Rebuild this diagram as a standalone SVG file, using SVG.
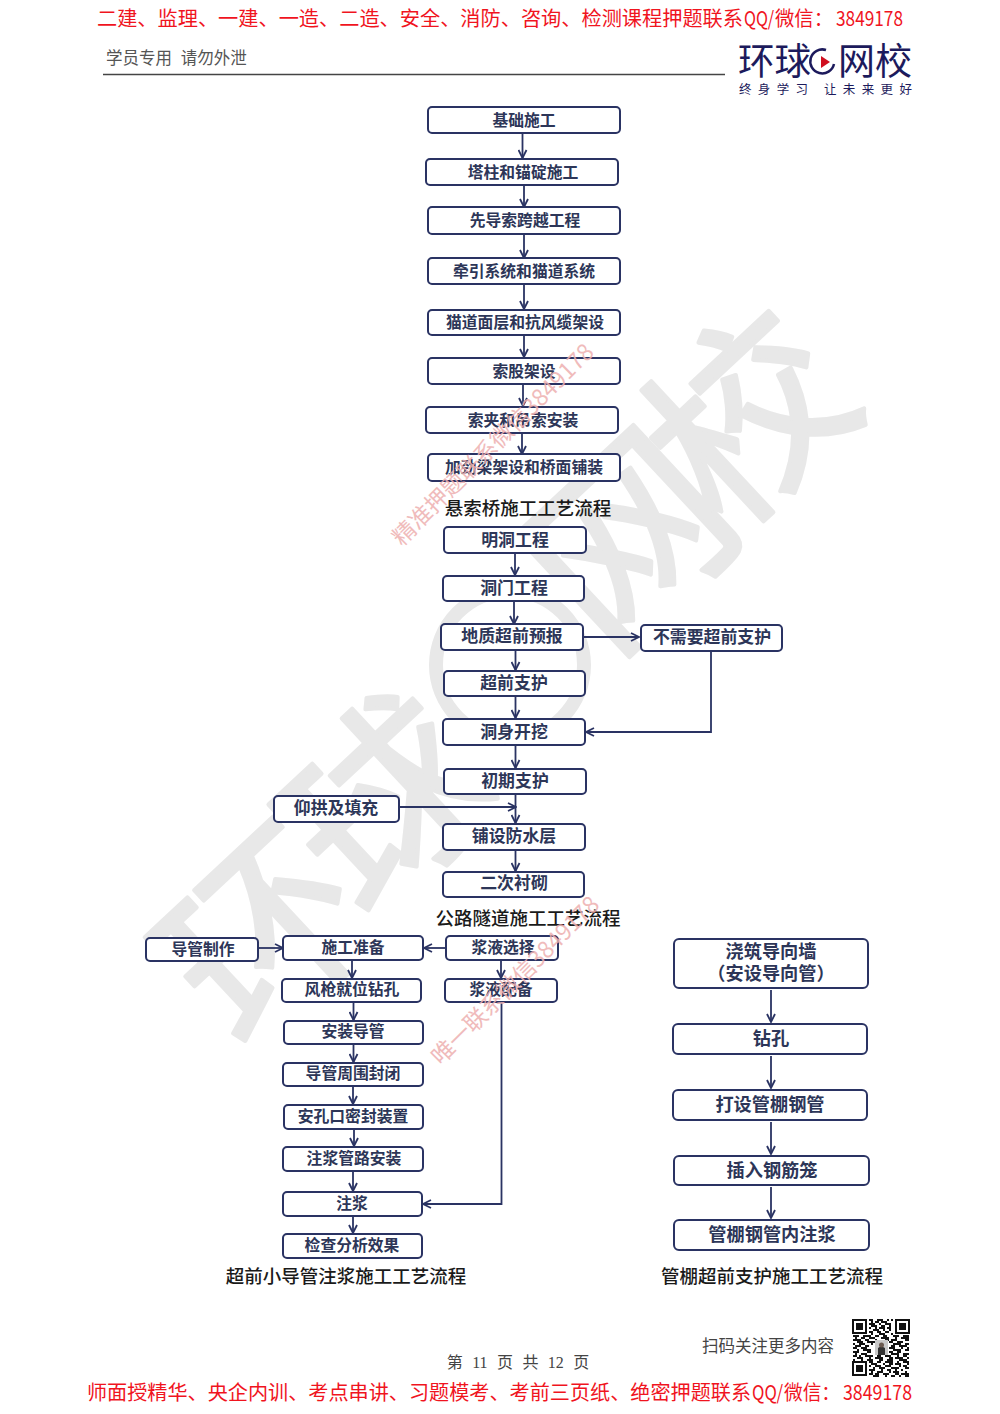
<svg xmlns="http://www.w3.org/2000/svg" width="1000" height="1414" viewBox="0 0 1000 1414">
<style>
text{font-family:"Noto Sans CJK SC","Liberation Sans",sans-serif}
.n rect{fill:#fff;stroke:#2a3363;stroke-width:2}
.n text{font-size:15.8px;font-weight:700;fill:#2d3658;text-anchor:middle}
.n .m{font-size:16.9px}
.n .l{font-size:18.2px}
.t{font-size:18.5px;font-weight:500;fill:#1a1a1a;text-anchor:middle}
.red{font-size:20px;fill:#f0141e}
.wm{font-size:23px;fill:#eeb0b0;opacity:.85}
.c path{fill:none;stroke:#2a3363;stroke-width:1.8;marker-end:url(#a)}
.w{font-size:195px;fill:#e8e8e8;stroke:#e8e8e8;stroke-width:4;stroke-linejoin:round;text-anchor:middle}
</style>
<defs><marker id="a" viewBox="0 0 10 10" refX="9" refY="5" markerWidth="10" markerHeight="10" markerUnits="userSpaceOnUse" orient="auto"><path d="M1 1L9 5L1 9" fill="none" stroke="#2a3363" stroke-width="1.8"/></marker></defs>
<rect width="1000" height="1414" fill="#fff"/>
<g id="watermark">
<text class="w" y="70" transform="translate(265 935) rotate(-43)">环</text>
<text class="w" y="70" transform="translate(388 803) rotate(-43)">球</text>
<circle cx="510" cy="665" r="74" fill="none" stroke="#e8e8e8" stroke-width="14"/>
<text class="w" y="70" transform="translate(630 540) rotate(-43)">网</text>
<text class="w" y="70" transform="translate(749 418) rotate(-43)">校</text>
</g>
<text class="red" y="26"><tspan x="97" textLength="646" lengthAdjust="spacingAndGlyphs">二建、监理、一建、一造、二造、安全、消防、咨询、检测课程押题联系</tspan><tspan x="744" textLength="30" lengthAdjust="spacingAndGlyphs">QQ/</tspan><tspan x="775" textLength="58" lengthAdjust="spacingAndGlyphs">微信：</tspan><tspan x="836" textLength="67" lengthAdjust="spacingAndGlyphs">3849178</tspan></text>
<g id="header">
<text y="64" font-size="16.500" fill="#555"><tspan x="106">学员专用</tspan><tspan x="177"> 请勿外泄</tspan></text>
<line x1="103" y1="74.500" x2="725" y2="74.500" stroke="#444" stroke-width="1.500"/>
<text x="738" y="75" font-size="37" fill="#1c1a5c" textLength="73" lengthAdjust="spacingAndGlyphs">环球</text>
<text x="838" y="75" font-size="37" fill="#1c1a5c" textLength="74" lengthAdjust="spacingAndGlyphs">网校</text>
<path d="M826 50A12 12 0 1 0 834 64" fill="none" stroke="#1c1a5c" stroke-width="2.500"/>
<path d="M821 56L830 62L821 68Z" fill="#d01020"/>
<text x="739" y="94" font-size="12.500" fill="#1c1a5c"><tspan textLength="69">终身学习</tspan><tspan x="824" textLength="88">让未来更好</tspan></text>
</g>
<g id="connectors" class="c">
<path d="M522.500 134V158"/><path d="M524 185V207"/><path d="M524 234V258"/><path d="M524 284V309"/><path d="M524 335V357"/><path d="M523 384V406"/><path d="M522 433V454"/>
<path d="M515 553V575"/><path d="M514 601V624"/><path d="M583 637H639"/><path d="M515.500 650V670"/><path d="M515.500 696V718"/><path d="M711 651V732H586"/><path d="M515.500 745V768"/><path d="M515.500 794V823"/><path d="M399 807H516"/><path d="M515.500 850V871"/>
<path d="M258 948H283"/><path d="M446 948H424"/><path d="M352 960V978"/><path d="M353.500 1002V1020"/><path d="M353.500 1044V1062"/><path d="M353 1086V1104"/><path d="M354 1129V1146"/><path d="M353 1171V1191"/><path d="M353 1216V1233"/><path d="M501 960V978"/><path d="M501.500 1002V1204H423"/>
<path d="M771 990V1022"/><path d="M771 1056V1088"/><path d="M771 1122V1154"/><path d="M771 1187V1218"/>
</g>
<g class="n">
<g id="n1"><rect x="428" y="107" width="192" height="26" rx="4"/><text x="524" y="126">基础施工</text></g>
<g id="n2"><rect x="426" y="159" width="192" height="26" rx="4"/><text x="523" y="178">塔柱和锚碇施工</text></g>
<g id="n3"><rect x="428" y="207" width="192" height="27" rx="4"/><text x="525" y="226">先导索跨越工程</text></g>
<g id="n4"><rect x="428" y="258" width="192" height="26" rx="4"/><text x="524" y="277">牵引系统和猫道系统</text></g>
<g id="n5"><rect x="428" y="310" width="192" height="25" rx="4"/><text x="525" y="328">猫道面层和抗风缆架设</text></g>
<g id="n6"><rect x="428" y="358" width="192" height="26" rx="4"/><text x="524" y="377">索股架设</text></g>
<g id="n7"><rect x="426" y="407" width="192" height="26" rx="4"/><text x="523" y="426">索夹和吊索安装</text></g>
<g id="n8"><rect x="428" y="454" width="192" height="27" rx="4"/><text x="524" y="473">加劲梁架设和桥面铺装</text></g>
<g id="t1"><rect x="444" y="527" width="142" height="26" rx="4"/><text class="m" x="515" y="546">明洞工程</text></g>
<g id="t2"><rect x="443" y="576" width="141" height="25" rx="4"/><text class="m" x="514" y="594">洞门工程</text></g>
<g id="t3"><rect x="441" y="624" width="142" height="26" rx="4"/><text class="m" x="512" y="642">地质超前预报</text></g>
<g id="t4"><rect x="641" y="625" width="141" height="26" rx="4"/><text class="m" x="712" y="643">不需要超前支护</text></g>
<g id="t5"><rect x="444" y="671" width="141" height="25" rx="4"/><text class="m" x="514" y="689">超前支护</text></g>
<g id="t6"><rect x="443" y="719" width="142" height="26" rx="4"/><text class="m" x="514" y="738">洞身开挖</text></g>
<g id="t7"><rect x="444" y="769" width="142" height="25" rx="4"/><text class="m" x="515" y="787">初期支护</text></g>
<g id="t8"><rect x="274" y="796" width="125" height="26" rx="4"/><text class="m" x="336" y="814">仰拱及填充</text></g>
<g id="t9"><rect x="443" y="824" width="142" height="26" rx="4"/><text class="m" x="514" y="842">铺设防水层</text></g>
<g id="t10"><rect x="443" y="872" width="141" height="25" rx="4"/><text class="m" x="514" y="889">二次衬砌</text></g>
<g id="g1"><rect x="146" y="938" width="112" height="23" rx="4"/><text x="203" y="955">导管制作</text></g>
<g id="g2"><rect x="283" y="936" width="140" height="24" rx="4"/><text x="353" y="953">施工准备</text></g>
<g id="g3"><rect x="446" y="936" width="112" height="24" rx="4"/><text x="503" y="953">浆液选择</text></g>
<g id="g4"><rect x="282" y="979" width="139" height="23" rx="4"/><text x="352" y="995">风枪就位钻孔</text></g>
<g id="g5"><rect x="445" y="979" width="112" height="23" rx="4"/><text x="501" y="995">浆液配备</text></g>
<g id="g6"><rect x="284" y="1021" width="139" height="23" rx="4"/><text x="353" y="1037">安装导管</text></g>
<g id="g7"><rect x="283" y="1063" width="140" height="23" rx="4"/><text x="353" y="1079">导管周围封闭</text></g>
<g id="g8"><rect x="284" y="1105" width="139" height="24" rx="4"/><text x="353" y="1122">安孔口密封装置</text></g>
<g id="g9"><rect x="283" y="1147" width="140" height="24" rx="4"/><text x="354" y="1164">注浆管路安装</text></g>
<g id="g10"><rect x="283" y="1192" width="139" height="24" rx="4"/><text x="352" y="1209">注浆</text></g>
<g id="g11"><rect x="283" y="1234" width="139" height="24" rx="4"/><text x="352" y="1251">检查分析效果</text></g>
<g id="r1"><rect x="674" y="939" width="194" height="49" rx="5"/><text class="l" x="771" y="958">浇筑导向墙</text><text class="l" x="771" y="980">（安设导向管）</text></g>
<g id="r2"><rect x="673" y="1024" width="194" height="30" rx="5"/><text class="l" x="771" y="1045">钻孔</text></g>
<g id="r3"><rect x="673" y="1090" width="194" height="30" rx="5"/><text class="l" x="770" y="1111">打设管棚钢管</text></g>
<g id="r4"><rect x="674" y="1156" width="195" height="29" rx="5"/><text class="l" x="772" y="1177">插入钢筋笼</text></g>
<g id="r5"><rect x="674" y="1220" width="195" height="30" rx="5"/><text class="l" x="772" y="1241">管棚钢管内注浆</text></g>
</g>
<text class="t" x="528" y="515">悬索桥施工工艺流程</text>
<text class="t" x="528" y="925">公路隧道施工工艺流程</text>
<text class="t" x="346" y="1283">超前小导管注浆施工工艺流程</text>
<text class="t" x="772" y="1283">管棚超前支护施工工艺流程</text>
<text class="wm" transform="translate(402 547) rotate(-45)">精准押题联系微信3849178</text>
<text class="wm" transform="translate(441 1066) rotate(-45)" textLength="226">唯一联系微信3849178</text>
<g id="footer">
<text x="518" y="1368" font-size="16" fill="#444" text-anchor="middle" word-spacing="5.400" style="font-family:'Liberation Serif','Noto Sans CJK SC',serif">第 11 页 共 12 页</text>
<text x="702" y="1352" font-size="16.500" fill="#444">扫码关注更多内容</text>
<text class="red" y="1400"><tspan x="87" textLength="664" lengthAdjust="spacingAndGlyphs">师面授精华、央企内训、考点串讲、习题模考、考前三页纸、绝密押题联系</tspan><tspan x="752" textLength="31" lengthAdjust="spacingAndGlyphs">QQ/</tspan><tspan x="784" textLength="56" lengthAdjust="spacingAndGlyphs">微信：</tspan><tspan x="843" textLength="69" lengthAdjust="spacingAndGlyphs">3849178</tspan></text>
</g>
<g id="qr" fill="#111">
<path fill-rule="evenodd" d="M852 1319h15v15h-15zM854 1321v11h11v-11zM856 1323h7v7h-7zM895 1319h15v15h-15zM897 1321v11h11v-11zM899 1323h7v7h-7zM852 1361h15v15h-15zM854 1363v11h11v-11zM856 1365h7v7h-7z"/>
<path fill="none" stroke="#111" stroke-width="2" d="M869 1320h4M877 1320h6M887 1320h2M891 1320h2M871 1322h2M875 1322h4M881 1322h6M869 1324h6M879 1324h2M885 1324h6M871 1326h6M881 1326h4M889 1326h2M869 1328h2M875 1328h2M879 1328h6M887 1328h4M873 1330h6M883 1330h2M889 1330h2M869 1332h4M877 1332h4M885 1332h4M871 1334h2M879 1334h6M891 1334h2M853 1336h6M863 1336h8M875 1336h4M883 1336h4M893 1336h6M903 1336h6M855 1338h2M861 1338h4M869 1338h6M881 1338h8M895 1338h2M901 1338h8M853 1340h8M865 1340h4M875 1340h2M885 1340h4M891 1340h6M905 1340h4M857 1342h6M867 1342h8M881 1342h2M889 1342h4M897 1342h6M853 1344h2M859 1344h6M871 1344h2M893 1344h8M905 1344h4M855 1346h6M865 1346h4M891 1346h4M899 1346h8M853 1348h4M861 1348h6M889 1348h6M901 1348h2M907 1348h2M857 1350h2M863 1350h8M893 1350h8M905 1350h4M853 1352h6M867 1352h4M889 1352h4M897 1352h4M855 1354h2M861 1354h6M891 1354h8M903 1354h6M853 1356h4M859 1356h2M865 1356h8M877 1356h4M885 1356h6M897 1356h2M903 1356h4M857 1358h6M869 1358h2M875 1358h8M889 1358h4M895 1358h8M907 1358h2M853 1360h2M861 1360h2M867 1360h6M879 1360h4M887 1360h6M899 1360h8M869 1362h4M877 1362h4M885 1362h8M897 1362h2M903 1362h6M871 1364h6M883 1364h2M889 1364h4M895 1364h6M907 1364h2M869 1366h2M875 1366h6M885 1366h6M899 1366h2M903 1366h4M873 1368h2M879 1368h6M891 1368h8M905 1368h4M869 1370h6M881 1370h2M887 1370h4M895 1370h2M901 1370h2M871 1372h2M877 1372h6M889 1372h2M893 1372h6M905 1372h2M869 1374h4M875 1374h4M883 1374h6M895 1374h4M901 1374h8M873 1376h6M885 1376h2M891 1376h4M899 1376h2M905 1376h4"/>
<rect x="875" y="1340" width="13" height="15" fill="#c8c8c8"/><path d="M878 1355v-7q3-3 7 0v7z" fill="#333"/><circle cx="881.500" cy="1345" r="2.500" fill="#6b5a50"/>
</g>
</svg>
